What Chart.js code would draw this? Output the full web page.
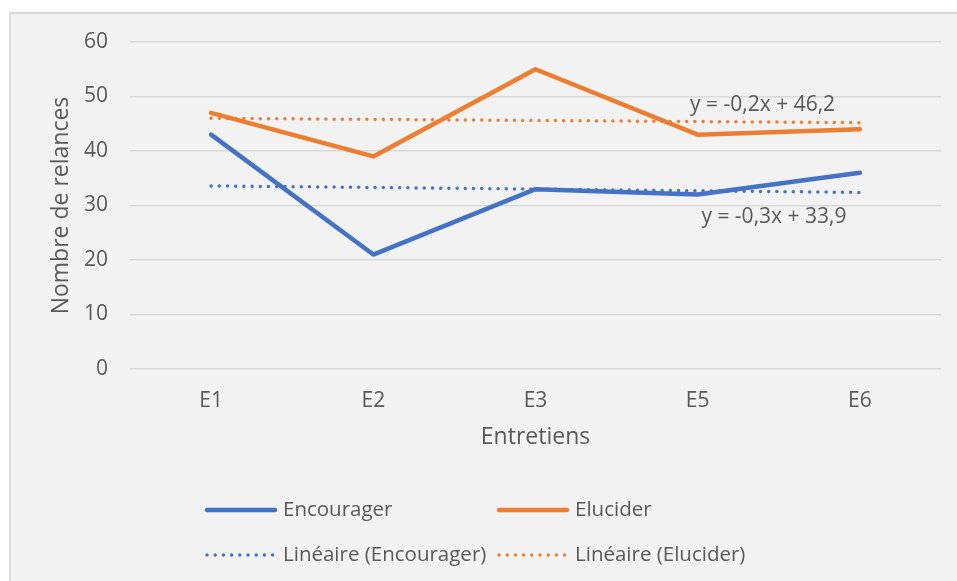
<!DOCTYPE html>
<html>
<head>
<meta charset="utf-8">
<script src="https://cdn.jsdelivr.net/npm/chart.js@4/dist/chart.umd.min.js"></script>
<style>
  html, body { margin: 0; padding: 0; background: #fff; overflow: hidden; }
  #cadre { position: absolute; left: 9px; top: 12px; width: 960px; height: 580px;
           background: #f2f2f2; border: 2px solid #d9d9d9; }
  #cadre canvas { position: absolute; left: 0; top: 0; }
</style>
</head>
<body>
<div id="cadre"><canvas id="graphe" width="946" height="567"></canvas></div>
<script>
// Donnees
var entretiens = ['E1', 'E2', 'E3', 'E5', 'E6'];
var encourager = [43, 21, 33, 32, 36];
var elucider = [47, 39, 55, 43, 44];
var tendanceEncourager = [33.6, 33.3, 33.0, 32.7, 32.4]; // y = -0,3x + 33,9
var tendanceElucider = [46.0, 45.8, 45.6, 45.4, 45.2];   // y = -0,2x + 46,2
var equations = ['y = -0,2x + 46,2', 'y = -0,3x + 33,9'];

var bleu = '#4472C4';
var orange = '#ED7D31';
var gris = '#595959';
var police = '"Open Sans", sans-serif';

// Etiquettes des equations (position en index de categorie / valeur)
var posEquations = [[3.4, 48.4], [3.47, 27.9]];

var pluginEquations = {
    id: 'equations',
    afterDatasetsDraw: function (chart) {
        var ctx = chart.ctx, sx = chart.scales.x, sy = chart.scales.y;
        ctx.save();
        ctx.font = '21px ' + police;
        ctx.fillStyle = gris;
        ctx.textAlign = 'center';
        ctx.textBaseline = 'middle';
        equations.forEach(function (eq, i) {
            ctx.fillText(eq, sx.getPixelForValue(posEquations[i][0]), sy.getPixelForValue(posEquations[i][1]));
        });
        ctx.restore();
    }
};

// Legende en grille 2 x 2 comme Excel
var pluginLegende = {
    id: 'legendeGrille',
    afterDraw: function (chart) {
        var ctx = chart.ctx;
        var colX = [194, 486];
        var rangY = [496, 541];
        ctx.save();
        chart.data.datasets.forEach(function (ds, i) {
            var x = colX[i % 2], y = rangY[Math.floor(i / 2)];
            ctx.beginPath();
            ctx.strokeStyle = ds.borderColor;
            ctx.lineWidth = ds.borderWidth;
            ctx.lineCap = 'round';
            ctx.setLineDash(ds.borderDash || []);
            ctx.moveTo(x + 2, y);
            ctx.lineTo(x + 70, y);
            ctx.stroke();
            ctx.setLineDash([]);
            ctx.font = '20.5px ' + police;
            ctx.fillStyle = gris;
            ctx.textAlign = 'left';
            ctx.textBaseline = 'middle';
            ctx.fillText(ds.label, x + 78, y);
        });
        ctx.restore();
    }
};

var config = {
    type: 'line',
    data: {
        labels: entretiens,
        datasets: [
            { label: 'Encourager', data: encourager, borderColor: bleu, backgroundColor: bleu,
              borderWidth: 4.5, borderCapStyle: 'round', borderJoinStyle: 'round', pointRadius: 0 },
            { label: 'Elucider', data: elucider, borderColor: orange, backgroundColor: orange,
              borderWidth: 4.5, borderCapStyle: 'round', borderJoinStyle: 'round', pointRadius: 0 },
            { label: 'Linéaire (Encourager)', data: tendanceEncourager, borderColor: bleu,
              borderWidth: 3.5, borderDash: [0, 8.2], borderCapStyle: 'round', pointRadius: 0 },
            { label: 'Linéaire (Elucider)', data: tendanceElucider, borderColor: orange,
              borderWidth: 3.5, borderDash: [0, 8.2], borderCapStyle: 'round', pointRadius: 0 }
        ]
    },
    options: {
        responsive: false,
        animation: false,
        layout: { padding: { left: 36, top: 28, right: 16, bottom: 122 } },
        plugins: {
            legend: { display: false },
            tooltip: { enabled: false }
        },
        scales: {
            x: {
                offset: true,
                grid: { display: false },
                border: { display: false },
                ticks: { color: gris, font: { family: police, size: 21 }, padding: 11 },
                title: { display: true, text: 'Entretiens', color: gris,
                         font: { family: police, size: 23 }, padding: { top: 0, bottom: 8 } },
                afterFit: function (scale) { scale.height = 90; }
            },
            y: {
                min: 0, max: 60,
                // marques de graduation invisibles pour ecarter les etiquettes
                grid: { color: '#d9d9d9', lineWidth: 1.5, drawTicks: true, tickLength: 20, tickColor: 'transparent' },
                border: { display: false },
                ticks: { stepSize: 10, color: gris, font: { family: police, size: 21 }, padding: 2 },
                title: { display: true, text: 'Nombre de relances', color: gris,
                         font: { family: police, size: 23 }, padding: { top: 1, bottom: 0 } },
                afterFit: function (scale) { scale.width = 83; }
            }
        }
    },
    plugins: [pluginEquations, pluginLegende]
};

new Chart(document.getElementById('graphe'), config);
</script>
</body>
</html>
